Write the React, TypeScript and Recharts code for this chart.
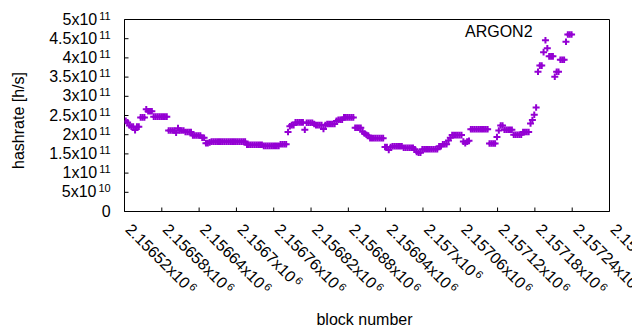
import { ScatterChart, Scatter, XAxis, YAxis, Legend } from 'recharts'

const FONT = '"Liberation Sans", Arial, sans-serif'
const PURPLE = '#9400d3'

// one point every 3 blocks, starting at block 2156522
const firstBlock = 2156522
const blockStep = 3

// hashrate in units of 10^11 h/s
const hashrate = [
  2.36, 2.32, 2.24, 2.21, 2.21, 2.12, 2.21, 2.21, 2.45, 2.45,
  2.45, 2.66, 2.61, 2.61, 2.61, 2.47, 2.47, 2.47, 2.47, 2.47,
  2.47, 2.47, 2.47, 2.11, 2.11, 2.11, 2.11, 2.05, 2.17, 2.11,
  2.11, 2.11, 2.07, 2.07, 2.07, 2.07, 1.98, 1.98, 1.98, 1.98,
  1.98, 1.92, 1.92, 1.78, 1.78, 1.8, 1.82, 1.82, 1.82, 1.82,
  1.82, 1.82, 1.82, 1.82, 1.82, 1.82, 1.82, 1.82, 1.82, 1.82,
  1.82, 1.82, 1.82, 1.82, 1.82, 1.74, 1.74, 1.74, 1.74, 1.74,
  1.74, 1.74, 1.74, 1.74, 1.71, 1.71, 1.71, 1.71, 1.71, 1.71,
  1.71, 1.71, 1.71, 1.75, 1.75, 1.75, 1.75, 2.07, 2.22, 2.25,
  2.25, 2.32, 2.32, 2.32, 2.32, 2.32, 2.13, 2.31, 2.31, 2.31,
  2.31, 2.28, 2.25, 2.25, 2.25, 2.25, 2.15, 2.25, 2.28, 2.28,
  2.28, 2.28, 2.28, 2.36, 2.39, 2.39, 2.39, 2.45, 2.45, 2.45,
  2.45, 2.45, 2.45, 2.18, 2.18, 2.18, 2.18, 2.08, 2.03, 2.0,
  1.98, 1.91, 1.91, 1.91, 1.91, 1.91, 1.91, 1.91, 1.91, 1.68,
  1.68, 1.6, 1.68, 1.7, 1.7, 1.7, 1.7, 1.7, 1.7, 1.66,
  1.66, 1.66, 1.66, 1.66, 1.66, 1.62, 1.55, 1.53, 1.53, 1.62,
  1.62, 1.62, 1.62, 1.62, 1.62, 1.62, 1.62, 1.62, 1.7, 1.7,
  1.75, 1.75, 1.75, 1.85, 1.92, 1.99, 1.99, 1.99, 1.99, 1.99,
  1.99, 1.82, 1.78, 1.82, 1.84, 2.14, 2.14, 2.14, 2.14, 2.14,
  2.14, 2.14, 2.14, 2.14, 2.14, 1.77, 1.77, 1.77, 1.77, 1.94,
  2.11, 2.24, 2.24, 2.13, 2.13, 2.13, 2.13, 2.13, 2.0, 2.0,
  2.0, 2.0, 2.0, 2.07, 2.07, 2.07, 2.07, 2.29, 2.38, 2.52,
  2.71, 3.64, 3.8, 3.8, 4.15, 4.46, 4.25, 4.04, 4.04, 4.04,
  3.51, 3.64, 3.64, 3.95, 3.95, 3.95, 4.42, 4.61, 4.61, 4.61,
]

const xTicks = [
  2156520, 2156580, 2156640, 2156700, 2156760, 2156820, 2156880,
  2156940, 2157000, 2157060, 2157120, 2157180, 2157240, 2157300,
]
const xTickMantissa = [
  '2.15652', '2.15658', '2.15664', '2.1567', '2.15676', '2.15682', '2.15688',
  '2.15694', '2.157', '2.15706', '2.15712', '2.15718', '2.15724', '2.1573',
]
const xTickExponent = '6'

const yTicks = [0, 0.5, 1, 1.5, 2, 2.5, 3, 3.5, 4, 4.5, 5]
const yTickMantissa = ['0', '5', '1', '1.5', '2', '2.5', '3', '3.5', '4', '4.5', '5']
const yTickExponent = ['', '10', '11', '11', '11', '11', '11', '11', '11', '11', '11']

const points = hashrate.map((h, i) => ({ block: firstBlock + i * blockStep, hashrate: h }))

function Plus({ cx, cy }: any) {
  if (cx == null || cy == null) return null
  return (
    <path
      d={`M${cx - 3.5},${cy}h7M${cx},${cy - 3.3}v6.6`}
      stroke={PURPLE}
      strokeWidth={2}
      fill="none"
    />
  )
}

function XTick({ x, y, payload }: any) {
  const i = xTicks.indexOf(payload.value)
  return (
    <text
      x={x}
      y={y}
      transform={`rotate(45 ${x} ${y})`}
      textAnchor="start"
      fontSize={16}
      fontFamily={FONT}
      fill="#000"
    >
      {xTickMantissa[i]}x10
      <tspan dx={2} dy={-5} fontSize={11}>{xTickExponent}</tspan>
    </text>
  )
}

function YTick({ x, y, payload }: any) {
  const i = yTicks.indexOf(payload.value)
  const exp = yTickExponent[i]
  return (
    <text x={x} y={y} dy={5} textAnchor="end" fontSize={16} fontFamily={FONT} fill="#000">
      {exp ? `${yTickMantissa[i]}x10` : yTickMantissa[i]}
      {exp ? <tspan dx={2} dy={-5} fontSize={11}>{exp}</tspan> : null}
    </text>
  )
}

function XTitle({ viewBox }: any) {
  const x = viewBox.x + viewBox.width / 2 - 2.5
  const y = viewBox.y + 113.2
  return (
    <text x={x} y={y} textAnchor="middle" fontSize={16} fontFamily={FONT} fill="#000">
      block number
    </text>
  )
}

function YTitle({ viewBox }: any) {
  const x = viewBox.x + 15
  const y = viewBox.y + viewBox.height / 2 + 5
  return (
    <text
      x={x}
      y={y}
      transform={`rotate(-90 ${x} ${y})`}
      textAnchor="middle"
      fontSize={16}
      fontFamily={FONT}
      fill="#000"
    >
      hashrate [h/s]
    </text>
  )
}

function KeyContent({ payload }: any) {
  const name = payload && payload.length ? payload[0].value : ''
  return (
    <div style={{ fontSize: 16, lineHeight: '16px', fontFamily: FONT, color: '#000', whiteSpace: 'nowrap' }}>
      {name}
    </div>
  )
}

export default function App() {
  return (
    <ScatterChart
      width={632}
      height={322}
      margin={{ top: 10.5, right: 29.5, bottom: 0, left: 0.5 }}
    >
      <XAxis
        type="number"
        dataKey="block"
        domain={[2156520, 2157300]}
        allowDataOverflow
        ticks={xTicks}
        interval={0}
        height={118.5}
        tickSize={-4}
        tickMargin={23}
        tick={<XTick />}
        axisLine={{ stroke: '#000' }}
        tickLine={{ stroke: '#000' }}
        label={<XTitle />}
      />
      <XAxis
        xAxisId="top"
        orientation="top"
        type="number"
        domain={[2156520, 2157300]}
        allowDataOverflow
        ticks={xTicks}
        interval={0}
        height={1}
        tickSize={-4}
        tick={false}
        axisLine={{ stroke: '#000' }}
        tickLine={{ stroke: '#000' }}
      />
      <YAxis
        type="number"
        dataKey="hashrate"
        domain={[0, 5]}
        allowDataOverflow
        ticks={yTicks}
        interval={0}
        width={116}
        tickSize={-4}
        tickMargin={17.8}
        tick={<YTick />}
        axisLine={{ stroke: '#000' }}
        tickLine={{ stroke: '#000' }}
        label={<YTitle />}
      />
      <YAxis
        yAxisId="right"
        orientation="right"
        type="number"
        domain={[0, 5]}
        allowDataOverflow
        ticks={yTicks}
        interval={0}
        width={1}
        tickSize={-4}
        tick={false}
        axisLine={{ stroke: '#000' }}
        tickLine={{ stroke: '#000' }}
      />
      <Legend
        layout="horizontal"
        verticalAlign="middle"
        align="center"
        content={<KeyContent />}
        wrapperStyle={{ position: 'absolute', top: 15.8, left: 457, width: 'auto', height: 'auto' }}
      />
      <Scatter
        name="ARGON2"
        data={points}
        fill={PURPLE}
        shape={<Plus />}
        isAnimationActive={false}
      />
    </ScatterChart>
  )
}
